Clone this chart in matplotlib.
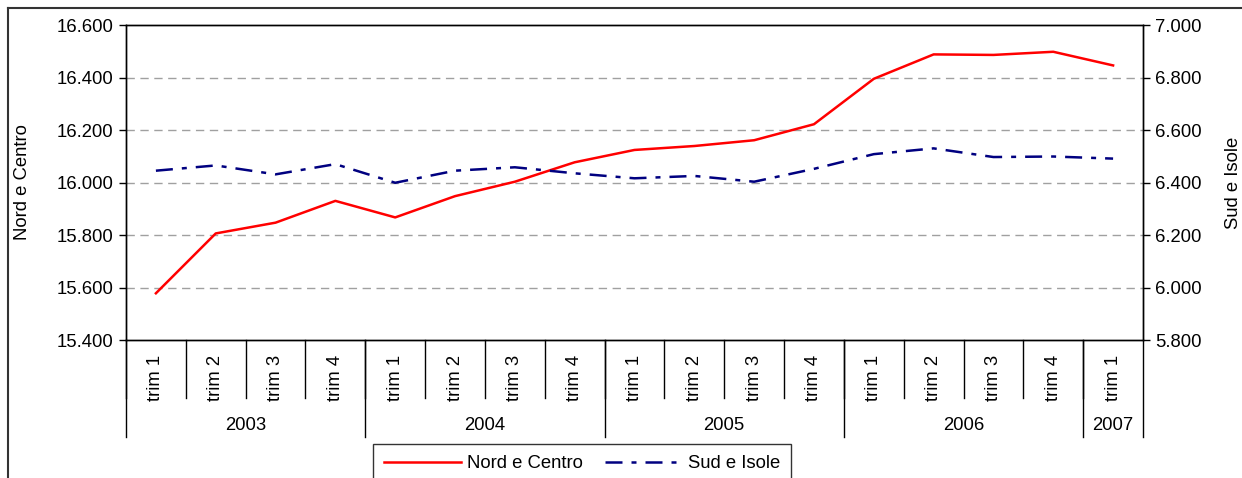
import matplotlib.pyplot as plt
import numpy as np
from matplotlib.ticker import FuncFormatter, MultipleLocator
from matplotlib.lines import Line2D
import matplotlib.transforms as mtransforms

plt.rcParams['font.family'] = ['Liberation Sans', 'DejaVu Sans']

# Data
years = ['2003', '2004', '2005', '2006', '2007']
quarters_per_year = [4, 4, 4, 4, 1]
quarter_labels = ['trim 1', 'trim 2', 'trim 3', 'trim 4'] * 4 + ['trim 1']
nord_centro = [15578, 15806, 15847, 15930, 15867, 15948, 16003, 16077, 16124,
               16139, 16161, 16222, 16395, 16488, 16486, 16498, 16446]
sud_isole = [6445, 6465, 6431, 6470, 6399, 6445, 6458, 6435, 6416,
             6425, 6403, 6452, 6508, 6530, 6497, 6499, 6491]

x = np.arange(len(quarter_labels))
FS = 13.3

fig = plt.figure(figsize=(12.42, 4.78), dpi=100)
ax1 = fig.add_axes([126 / 1242, 138 / 478, 1017 / 1242, 315 / 478])
ax2 = ax1.twinx()

def it_fmt(v, pos):
    return f'{v:,.0f}'.replace(',', '.')

# grid
for v in np.arange(15600, 16401, 200):
    ax1.axhline(v, color='#a0a0a0', lw=1, dashes=(6, 4), zorder=0)

ln1, = ax1.plot(x, nord_centro, color='#ff0000', lw=1.8, label='Nord e Centro', zorder=3)
ln2, = ax2.plot(x, sud_isole, color='#000080', lw=1.8, label='Sud e Isole',
                dashes=(6.8, 3.6, 2.0, 3.6), zorder=3)

ax1.set_xlim(-0.5, len(x) - 0.5)
ax1.set_ylim(15400, 16600)
ax2.set_ylim(5800, 7000)
ax1.yaxis.set_major_locator(MultipleLocator(200))
ax2.yaxis.set_major_locator(MultipleLocator(200))
ax1.yaxis.set_major_formatter(FuncFormatter(it_fmt))
ax2.yaxis.set_major_formatter(FuncFormatter(it_fmt))
ax1.tick_params(axis='y', labelsize=FS, length=5, width=1, pad=4)
ax2.tick_params(axis='y', labelsize=FS, length=5, width=1, pad=4)
ax1.set_xticks([])
for sp in ax1.spines.values():
    sp.set_linewidth(1)
for sp in ax2.spines.values():
    sp.set_linewidth(1)

ax1.set_ylabel('Nord e Centro', fontsize=FS)
ax1.yaxis.set_label_coords(-0.093, 0.5)
ax2.set_ylabel('Sud e Isole', fontsize=FS, rotation=90)
ax2.yaxis.set_label_coords(1.081, 0.5)

# category axis drawn below the plot
trans = mtransforms.blended_transform_factory(ax1.transData, ax1.transAxes)
px = 1 / 315  # one pixel in axes-height units
for i, lab in enumerate(quarter_labels):
    ax1.text(x[i], -15 * px, lab, rotation=90, ha='center', va='top',
             fontsize=FS, transform=trans)
for b in np.arange(-0.5, len(x) - 0.5):
    ax1.add_line(Line2D([b, b], [0, -58 * px], transform=trans, color='black',
                        lw=1, clip_on=False))
edges = np.concatenate([[0], np.cumsum(quarters_per_year)]) - 0.5
for b in edges:
    ax1.add_line(Line2D([b, b], [0, -97 * px], transform=trans, color='black',
                        lw=1, clip_on=False))
for j, yr in enumerate(years):
    ax1.text((edges[j] + edges[j + 1]) / 2, -86 * px, yr, ha='center', va='center',
             fontsize=FS, transform=trans)

# outer chart frame
fig.add_artist(Line2D([8 / 1242, 8 / 1242], [-0.1, 1 - 8 / 478], color='#333333',
                      lw=1.5, transform=fig.transFigure))
fig.add_artist(Line2D([8 / 1242, 1.1], [1 - 8 / 478, 1 - 8 / 478], color='#333333',
                      lw=1.5, transform=fig.transFigure))

leg = fig.legend(handles=[ln1, ln2], loc='upper center', ncol=2,
                 bbox_to_anchor=(582 / 1242, 1 - 444 / 478), borderaxespad=0,
                 fontsize=FS, frameon=True, fancybox=False, edgecolor='black',
                 handlelength=4.2, columnspacing=1.2, handletextpad=0.3,
                 borderpad=0.6)
leg.get_frame().set_linewidth(1)

fig.savefig('out.png', dpi=100)
